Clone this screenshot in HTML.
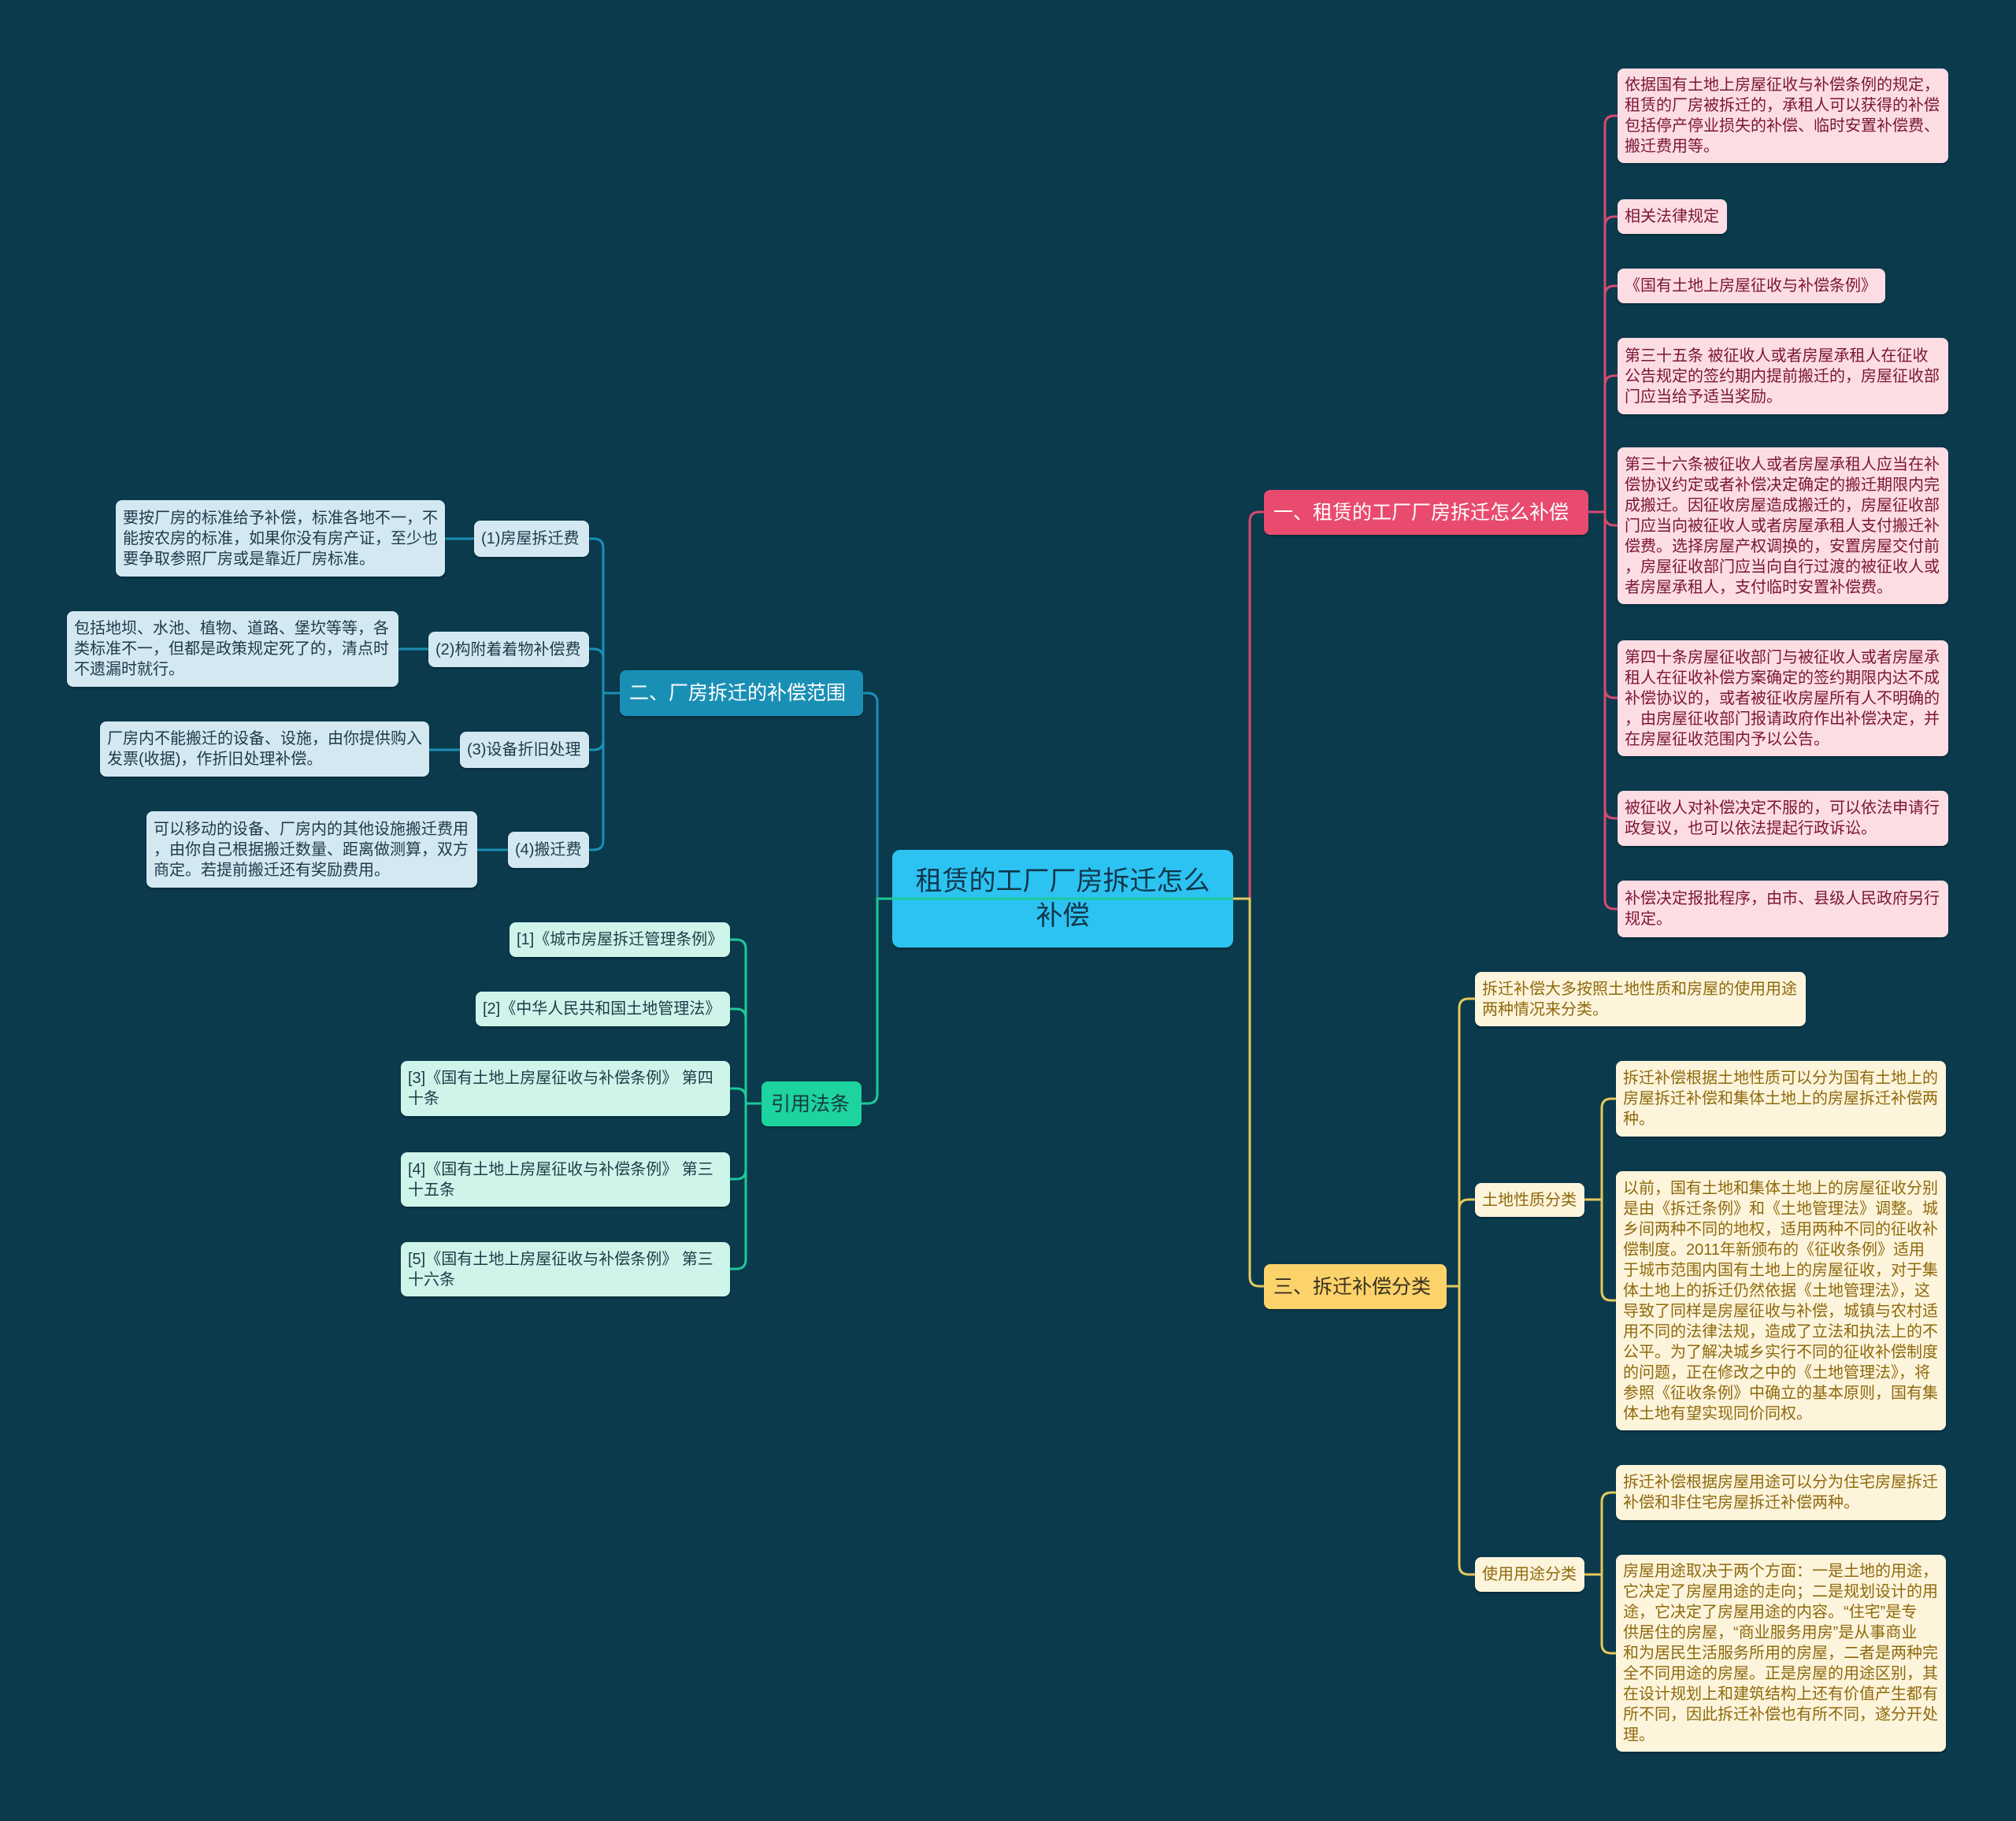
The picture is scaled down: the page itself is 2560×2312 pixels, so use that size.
<!DOCTYPE html>
<html><head><meta charset="utf-8"><style>
html,body{margin:0;padding:0}
body{width:2560px;height:2312px;background:#0a3a4c;position:relative;overflow:hidden;font-family:"Liberation Sans","Noto Sans CJK SC",sans-serif}
.n{position:absolute;box-sizing:border-box;border-radius:8px;display:flex;flex-direction:column;justify-content:center;padding:0 9px;font-size:20px;line-height:26px;white-space:nowrap;overflow:hidden;box-shadow:0 2px 2px rgba(0,0,0,.25)}
.pk{background:#fddde4;color:#7a1534}
.yl{background:#fdf4dc;color:#8f6a0c}
.bl{background:#d3e8f1;color:#1d3a48}
.gr{background:#cff5ea;color:#1d3a48}
.b{font-size:25px;line-height:32px;padding:0 12px}
svg{position:absolute;left:0;top:0}
</style></head><body>
<svg width="2560" height="2312" fill="none" stroke-width="3">
<g stroke="#d94a72">
<path d="M1566 1141H1587V662Q1587 650 1599 650H1605"/>
<path d="M2017 650H2038V159Q2038 147 2050 147H2054"/>
<path d="M2017 650H2038V287Q2038 275 2050 275H2054"/>
<path d="M2017 650H2038V375Q2038 363 2050 363H2054"/>
<path d="M2017 650H2038V489Q2038 477 2050 477H2054"/>
<path d="M2017 650H2038V655Q2038 667 2050 667H2054"/>
<path d="M2017 650H2038V874Q2038 886 2050 886H2054"/>
<path d="M2017 650H2038V1027Q2038 1039 2050 1039H2054"/>
<path d="M2017 650H2038V1142Q2038 1154 2050 1154H2054"/>
</g>
<g stroke="#e6c95c">
<path d="M1566 1141H1587V1621Q1587 1633 1599 1633H1605"/>
<path d="M1837 1633H1853V1280Q1853 1268 1865 1268H1873"/>
<path d="M1837 1633H1853V1535Q1853 1523 1865 1523H1873"/>
<path d="M1837 1633H1853V1987Q1853 1999 1865 1999H1873"/>
<path d="M2012 1523H2034V1407Q2034 1395 2046 1395H2052"/>
<path d="M2012 1523H2034V1639Q2034 1651 2046 1651H2052"/>
<path d="M2012 1999H2034V1907Q2034 1895 2046 1895H2052"/>
<path d="M2012 1999H2034V2087Q2034 2099 2046 2099H2052"/>
</g>
<g stroke="#1a8fb5">
<path d="M1133 1141H1114V892Q1114 880 1102 880H1096"/>
<path d="M787 880H766V696Q766 684 754 684H748"/>
<path d="M787 880H766V836Q766 824 754 824H748"/>
<path d="M787 880H766V940Q766 952 754 952H748"/>
<path d="M787 880H766V1067Q766 1079 754 1079H748"/>
<path d="M602 684H565M544 824H506M584 952H545M645 1079H606"/>
</g>
<g stroke="#1dc99a">
<path d="M1133 1141H1114V1389Q1114 1401 1102 1401H1094"/>
<path d="M967 1401H947V1205Q947 1193 935 1193H927"/>
<path d="M967 1401H947V1293Q947 1281 935 1281H927"/>
<path d="M967 1401H947V1394Q947 1382 935 1382H927"/>
<path d="M967 1401H947V1485Q947 1497 935 1497H927"/>
<path d="M967 1401H947V1599Q947 1611 935 1611H927"/>
</g>
</svg>

<div class="n" style="left:1133px;top:1079px;width:433px;height:124px;background:#2cc3f2;color:#10364a;font-size:34px;line-height:44px;align-items:center;text-align:center;border-radius:10px">租赁的工厂厂房拆迁怎么<br>补偿</div>

<div class="n b" style="left:1605px;top:622px;width:412px;height:57px;background:#e94b6f;color:#fff">一、租赁的工厂厂房拆迁怎么补偿</div>
<div class="n pk" style="left:2054px;top:87px;width:420px;height:120px">依据国有土地上房屋征收与补偿条例的规定，<br>租赁的厂房被拆迁的，承租人可以获得的补偿<br>包括停产停业损失的补偿、临时安置补偿费、<br>搬迁费用等。</div>
<div class="n pk" style="left:2054px;top:253px;width:139px;height:44px">相关法律规定</div>
<div class="n pk" style="left:2054px;top:341px;width:340px;height:44px">《国有土地上房屋征收与补偿条例》</div>
<div class="n pk" style="left:2054px;top:429px;width:420px;height:97px">第三十五条 被征收人或者房屋承租人在征收<br>公告规定的签约期内提前搬迁的，房屋征收部<br>门应当给予适当奖励。</div>
<div class="n pk" style="left:2054px;top:568px;width:420px;height:199px">第三十六条被征收人或者房屋承租人应当在补<br>偿协议约定或者补偿决定确定的搬迁期限内完<br>成搬迁。因征收房屋造成搬迁的，房屋征收部<br>门应当向被征收人或者房屋承租人支付搬迁补<br>偿费。选择房屋产权调换的，安置房屋交付前<br>，房屋征收部门应当向自行过渡的被征收人或<br>者房屋承租人，支付临时安置补偿费。</div>
<div class="n pk" style="left:2054px;top:813px;width:420px;height:147px">第四十条房屋征收部门与被征收人或者房屋承<br>租人在征收补偿方案确定的签约期限内达不成<br>补偿协议的，或者被征收房屋所有人不明确的<br>，由房屋征收部门报请政府作出补偿决定，并<br>在房屋征收范围内予以公告。</div>
<div class="n pk" style="left:2054px;top:1004px;width:420px;height:70px">被征收人对补偿决定不服的，可以依法申请行<br>政复议，也可以依法提起行政诉讼。</div>
<div class="n pk" style="left:2054px;top:1118px;width:420px;height:72px">补偿决定报批程序，由市、县级人民政府另行<br>规定。</div>

<div class="n b" style="left:1605px;top:1605px;width:232px;height:57px;background:#fcd36a;color:#3a3020">三、拆迁补偿分类</div>
<div class="n yl" style="left:1873px;top:1234px;width:420px;height:69px">拆迁补偿大多按照土地性质和房屋的使用用途<br>两种情况来分类。</div>
<div class="n yl" style="left:1873px;top:1502px;width:139px;height:43px">土地性质分类</div>
<div class="n yl" style="left:1873px;top:1977px;width:139px;height:44px">使用用途分类</div>
<div class="n yl" style="left:2052px;top:1347px;width:419px;height:96px">拆迁补偿根据土地性质可以分为国有土地上的<br>房屋拆迁补偿和集体土地上的房屋拆迁补偿两<br>种。</div>
<div class="n yl" style="left:2052px;top:1487px;width:419px;height:329px">以前，国有土地和集体土地上的房屋征收分别<br>是由《拆迁条例》和《土地管理法》调整。城<br>乡间两种不同的地权，适用两种不同的征收补<br>偿制度。2011年新颁布的《征收条例》适用<br>于城市范围内国有土地上的房屋征收，对于集<br>体土地上的拆迁仍然依据《土地管理法》，这<br>导致了同样是房屋征收与补偿，城镇与农村适<br>用不同的法律法规，造成了立法和执法上的不<br>公平。为了解决城乡实行不同的征收补偿制度<br>的问题，正在修改之中的《土地管理法》，将<br>参照《征收条例》中确立的基本原则，国有集<br>体土地有望实现同价同权。</div>
<div class="n yl" style="left:2052px;top:1860px;width:419px;height:70px">拆迁补偿根据房屋用途可以分为住宅房屋拆迁<br>补偿和非住宅房屋拆迁补偿两种。</div>
<div class="n yl" style="left:2052px;top:1974px;width:419px;height:250px">房屋用途取决于两个方面：一是土地的用途，<br>它决定了房屋用途的走向；二是规划设计的用<br>途，它决定了房屋用途的内容。“住宅”是专<br>供居住的房屋，“商业服务用房”是从事商业<br>和为居民生活服务所用的房屋，二者是两种完<br>全不同用途的房屋。正是房屋的用途区别，其<br>在设计规划上和建筑结构上还有价值产生都有<br>所不同，因此拆迁补偿也有所不同，遂分开处<br>理。</div>

<div class="n b" style="left:787px;top:851px;width:309px;height:58px;background:#1a8fb5;color:#fff">二、厂房拆迁的补偿范围</div>
<div class="n bl" style="left:602px;top:661px;width:146px;height:46px">(1)房屋拆迁费</div>
<div class="n bl" style="left:544px;top:802px;width:204px;height:45px">(2)构附着着物补偿费</div>
<div class="n bl" style="left:584px;top:929px;width:164px;height:46px">(3)设备折旧处理</div>
<div class="n bl" style="left:645px;top:1056px;width:103px;height:46px">(4)搬迁费</div>
<div class="n bl" style="left:147px;top:635px;width:418px;height:97px">要按厂房的标准给予补偿，标准各地不一，不<br>能按农房的标准，如果你没有房产证，至少也<br>要争取参照厂房或是靠近厂房标准。</div>
<div class="n bl" style="left:85px;top:776px;width:421px;height:96px">包括地坝、水池、植物、道路、堡坎等等，各<br>类标准不一，但都是政策规定死了的，清点时<br>不遗漏时就行。</div>
<div class="n bl" style="left:127px;top:916px;width:418px;height:70px">厂房内不能搬迁的设备、设施，由你提供购入<br>发票(收据)，作折旧处理补偿。</div>
<div class="n bl" style="left:186px;top:1030px;width:420px;height:97px">可以移动的设备、厂房内的其他设施搬迁费用<br>，由你自己根据搬迁数量、距离做测算，双方<br>商定。若提前搬迁还有奖励费用。</div>

<div class="n b" style="left:967px;top:1373px;width:127px;height:57px;background:#1dd3a0;color:#153a3a">引用法条</div>
<div class="n gr" style="left:647px;top:1171px;width:280px;height:44px">[1]《城市房屋拆迁管理条例》</div>
<div class="n gr" style="left:604px;top:1259px;width:323px;height:44px">[2]《中华人民共和国土地管理法》</div>
<div class="n gr" style="left:509px;top:1347px;width:418px;height:70px">[3]《国有土地上房屋征收与补偿条例》 第四<br>十条</div>
<div class="n gr" style="left:509px;top:1463px;width:418px;height:69px">[4]《国有土地上房屋征收与补偿条例》 第三<br>十五条</div>
<div class="n gr" style="left:509px;top:1577px;width:418px;height:69px">[5]《国有土地上房屋征收与补偿条例》 第三<br>十六条</div>

<svg width="2560" height="2312" fill="none" stroke-width="3">
<path d="M1114 1141H1566" stroke="#1dc99a"/>
<path d="M1566 1141H1587" stroke="#e6c95c"/>
</svg>
</body></html>
